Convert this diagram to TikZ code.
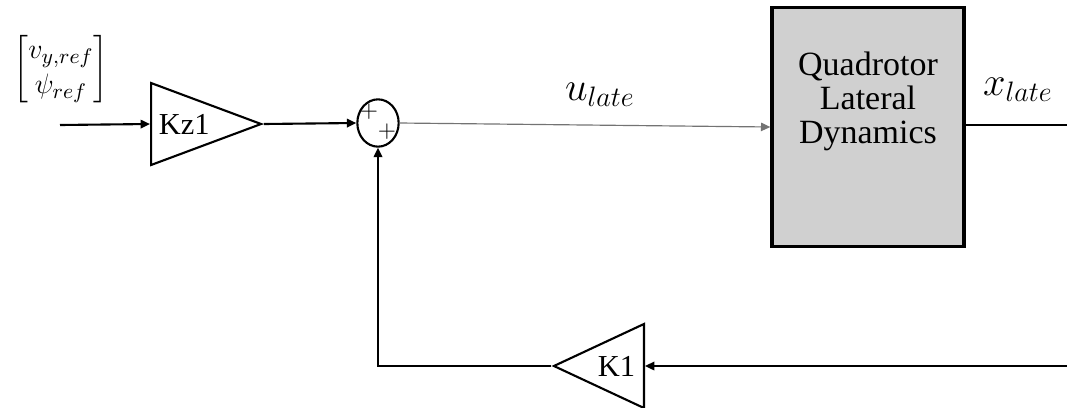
\documentclass[tikz,border=0pt]{standalone}
\usepackage{amsmath}
\usepackage{fontspec}
\setmainfont{Liberation Serif}
\usepackage{tikz}
\usetikzlibrary{shapes.geometric, arrows.meta, positioning, calc}
\definecolor{plantgray}{RGB}{208,208,208}
\tikzset{
  gain/.style={isosceles triangle, isosceles triangle stretches, draw=black, line width=0.9pt, inner sep=1pt, font=\fontsize{13}{15}\selectfont},
  plant/.style={rectangle, draw=black, line width=1.4pt, fill=plantgray, align=center, font=\fontsize{14.5}{14.5}\selectfont},
  sumjunc/.style={ellipse, draw=black, line width=0.9pt, inner sep=0pt},
  arrowline/.style={-{Triangle[length=4pt, width=3.6pt]}, line width=0.9pt},
  sig/.style={font=\fontsize{17}{20}\selectfont},
}
\begin{document}
\begin{tikzpicture}[x=0.015cm, y=-0.015cm]
\useasboundingbox (0,0) rectangle (1067,407);

\node[font=\fontsize{13}{15}\selectfont, inner sep=0pt] (ref) at (61,69) {$\begin{bmatrix} v_{y,ref}\\ \psi_{ref}\end{bmatrix}$};
\coordinate (in) at (60,125);
\node[gain, minimum width=1.23cm, minimum height=1.65cm, anchor=west] (kz) at (150,124) {Kz1};
\node[sumjunc, minimum width=0.62cm, minimum height=0.71cm] (sum) at (378,123) {};
\node[inner sep=0pt] (p1) at (369,112) {$+$};
\node[inner sep=0pt] (p2) at (387,132) {$+$};

\node[plant, minimum width=2.88cm, minimum height=3.58cm, text depth=0.87cm] (plant) at (868,127) {Quadrotor\\Lateral\\Dynamics};
\node[sig] (u) at (600,95) {$u_{late}$};
\node[sig] (x) at (1018,90) {$x_{late}$};
\coordinate (out) at (1067,125);

\node[gain, shape border rotate=180, minimum width=1.26cm, minimum height=1.35cm, anchor=lower side] (k1) at (645,366) {K1};
\coordinate (fb) at (1067,366);

\draw[arrowline] (in) -- (kz.lower side);
\draw[arrowline] (kz.apex) -- (sum.west);
\draw[-{Triangle[length=4pt, width=3.6pt]}, line width=0.5pt, black!55] (sum.east) -- (plant.west);
\draw[line width=0.9pt] (plant.east |- out) -- (out);
\draw[arrowline] (fb) -- (k1.lower side);
\draw[arrowline] (k1.apex) -| (sum.south);
\end{tikzpicture}
\end{document}
